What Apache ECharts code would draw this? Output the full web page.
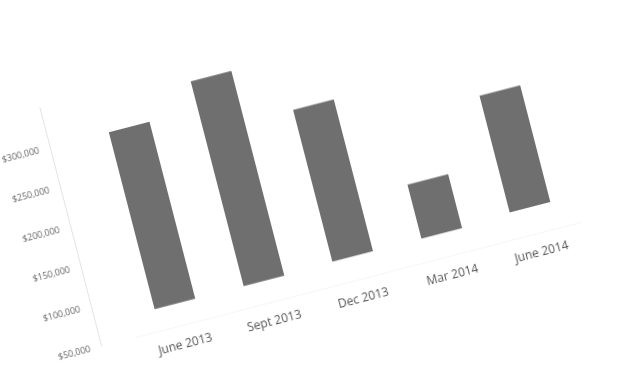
<!DOCTYPE html>
<html>
<head>
<meta charset="utf-8">
<script src="https://cdn.jsdelivr.net/npm/echarts@6/dist/echarts.min.js"></script>
<style>
html,body{margin:0;padding:0;background:#fff;overflow:hidden;width:632px;height:365px;}
#chart{position:absolute;left:0;top:0;width:632px;height:365px;transform:rotate(-14.5deg);transform-origin:316px 182.5px;}
</style>
</head>
<body>
<div id="chart"></div>
<script>
const categories = ['June 2013', 'Sept 2013', 'Dec 2013', 'Mar 2014', 'June 2014'];
const rangeLow = [77000, 77000, 79000, 79000, 83000];
const rangeHigh = [300000, 335000, 270000, 147000, 230000];
const yTickValues = [50000, 100000, 150000, 200000, 250000, 300000];
const yTickLabels = ['$50,000', '$100,000', '$150,000', '$200,000', '$250,000', '$300,000'];

const chart = echarts.init(document.getElementById('chart'));
chart.setOption({
  animation: false,
  backgroundColor: 'transparent',
  grid: { left: 103, right: 69, top: 41, bottom: 78 },
  xAxis: {
    type: 'category',
    data: categories,
    axisLine: { lineStyle: { color: '#f6f6f6', width: 1 } },
    axisTick: { show: false },
    axisLabel: { color: '#555', fontFamily: 'Open Sans', fontSize: 12, margin: 14 }
  },
  yAxis: {
    type: 'value',
    min: 50000,
    max: 350000,
    interval: 50000,
    offset: 36,
    axisLine: { show: true, lineStyle: { color: '#e4e4e4', width: 1 } },
    axisTick: { show: false },
    splitLine: { show: false },
    axisLabel: {
      showMaxLabel: false,
      color: '#666',
      fontFamily: 'Open Sans',
      fontSize: 9,
      margin: 11,
      formatter: function (v) {
        const i = yTickValues.indexOf(v);
        return i >= 0 ? yTickLabels[i] : '';
      }
    }
  },
  series: [
    {
      type: 'bar',
      stack: 'r',
      data: rangeLow,
      barWidth: 42,
      itemStyle: { color: 'rgba(0,0,0,0)' },
      silent: true
    },
    {
      type: 'bar',
      stack: 'r',
      data: rangeHigh.map((h, i) => h - rangeLow[i]),
      barWidth: 42,
      itemStyle: { color: '#6f6f6f' }
    }
  ]
});
</script>
</body>
</html>
